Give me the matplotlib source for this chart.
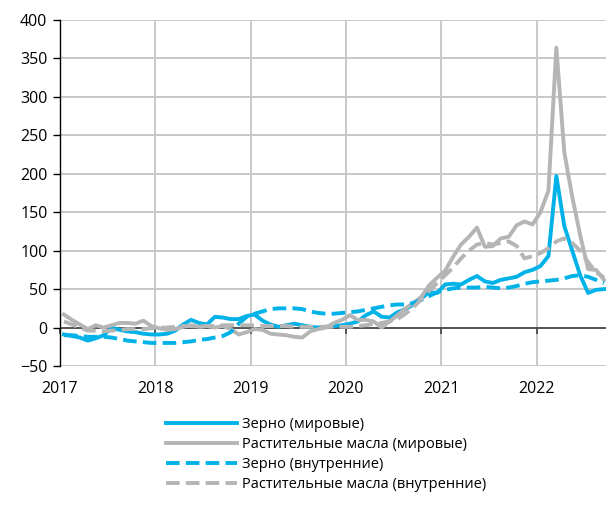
import numpy as np
import matplotlib
matplotlib.use("Agg")
import matplotlib.pyplot as plt

plt.rcParams['font.family'] = ['Open Sans', 'DejaVu Sans']

# -----------------------------
# data: monthly, Jan 2017 .. Sep 2022
# -----------------------------
start_year = 2017
years = [2017, 2018, 2019, 2020, 2021, 2022]

grain_world = [
    -9, -11, -13, -17, -14, -10, 0, -3, -5, -6, -8, -9,
    -9, -8, -4, 4, 10, 6, 4, 14, 13, 11, 11, 15,
    17, 9, 4, 1, 3, 5, 3, 1, 0, 1, 2, 3,
    5, 8, 16, 21, 14, 13, 20, 24, 30, 38, 46, 45,
    56, 57, 56, 62, 67, 60, 58, 62, 64, 66, 72, 75,
    80, 93, 197, 132, 100, 68, 45, 49, 50,
]
oil_world = [
    17, 10, 4, -2, 3, 0, 3, 6, 6, 5, 9, 2,
    -1, -3, -2, 1, 3, 1, 2, 0, 2, -2, -9, -6,
    -2, -3, -8, -9, -10, -12, -13, -5, -2, 0, 6, 10,
    16, 10, 10, 8, 0, 8, 16, 25, 32, 40, 55, 65,
    74, 92, 108, 118, 130, 105, 106, 116, 118, 133, 138, 134,
    150, 178, 364, 228, 170, 120, 76, 75, 62,
]
grain_domestic = [
    -10, -10, -11, -12, -12, -12, -13, -15, -17, -18, -19, -20,
    -20, -20, -20, -19, -18, -16, -15, -13, -11, -6, 5, 14,
    18, 21, 24, 25, 25, 25, 24, 21, 19, 18, 18, 19,
    20, 21, 23, 25, 27, 29, 30, 30, 32, 36, 41, 46,
    49, 51, 52, 52, 52, 53, 52, 51, 52, 54, 57, 59,
    60, 61, 62, 64, 67, 68, 66, 62, 58,
]
oil_domestic = [
    8, 4, 0, -4, -4, -5, -4, -3, -2, -2, -2, -1,
    0, 0, 1, 2, 2, 1, 2, 2, 3, 3, 3, 3,
    3, 2, 2, 2, 2, 1, 1, 1, 1, 1, 1, 1,
    1, 2, 3, 5, 6, 8, 11, 18, 26, 37, 48, 58,
    68, 78, 90, 100, 108, 110, 108, 110, 112, 106, 90, 93,
    97, 103, 112, 116, 110, 100, 85, 72, 65,
]

labels = [
    "Зерно (мировые)",
    "Растительные масла (мировые)",
    "Зерно (внутренние)",
    "Растительные масла (внутренние)",
]

blue = "#00B2E8"
grey = "#B5B5B5"

# months are drawn in the middle of each month
x = start_year + (np.arange(len(grain_world)) + 0.5) / 12

# -----------------------------
# plot
# -----------------------------
fig = plt.figure(figsize=(6.06, 5.07), dpi=100)
ax = fig.add_axes([60 / 606, 141 / 507, 546 / 606, 346 / 507])

lw = 2.8
ax.plot(x, grain_world, color=blue, lw=lw, label=labels[0])
ax.plot(x, oil_world, color=grey, lw=lw, label=labels[1])
ax.plot(x, grain_domestic, color=blue, lw=lw, dashes=(3.5, 1.6), label=labels[2])
ax.plot(x, oil_domestic, color=grey, lw=lw, dashes=(3.5, 1.6), label=labels[3])

ax.set_xlim(2017, 2017 + 546 / 95.3)
ax.set_ylim(-50, 400)
ax.set_yticks(np.arange(-50, 401, 50))
ax.set_xticks(years)

ax.grid(True, color="#C8C8C8", lw=1.4)
ax.set_axisbelow(True)
ax.axhline(0, color="#333333", lw=1.1, zorder=1.5)

for s in ["top", "right"]:
    ax.spines[s].set_visible(False)
ax.spines["left"].set_color("black")
ax.spines["left"].set_linewidth(1.0)

# zero line carries small year ticks
ax.spines["bottom"].set_position(("data", 0))
ax.spines["bottom"].set_visible(False)
ax.tick_params(axis="x", direction="out", length=4, width=1.1, color="#333333",
               labelbottom=False)
ax.tick_params(axis="y", direction="out", length=5, width=1.0, labelsize=11.5,
               pad=4, colors="black")

sec = ax.secondary_xaxis("bottom")
sec.set_xticks(years)
sec.tick_params(length=0, labelsize=11.5, pad=11)
sec.spines["bottom"].set_visible(False)

fig.legend(loc="upper left", bbox_to_anchor=(160 / 606, 1 - 411 / 507),
           frameon=False, fontsize=10.5, handlelength=4.9, handletextpad=0.3,
           labelspacing=0.35, borderaxespad=0)

fig.savefig("out.png", dpi=100)
